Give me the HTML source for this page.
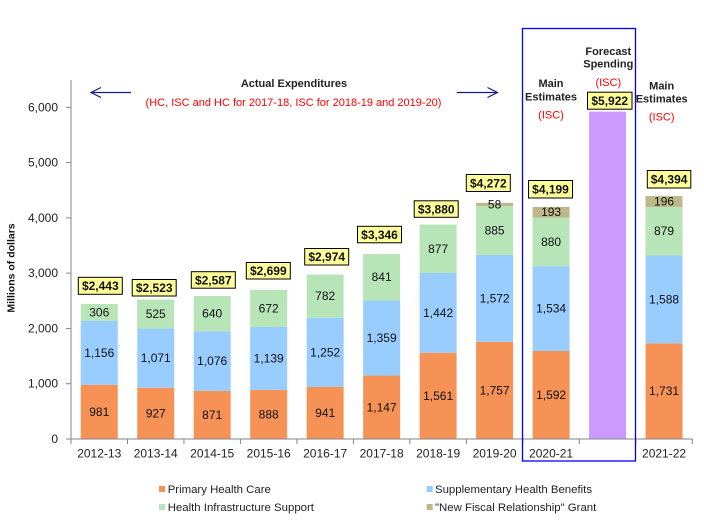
<!DOCTYPE html>
<html><head><meta charset="utf-8"><style>
html,body{margin:0;padding:0;background:#fff;}
svg{display:block;font-family:"Liberation Sans",Arial,sans-serif;}
</style></head><body>
<svg width="704" height="521" viewBox="0 0 704 521" xmlns="http://www.w3.org/2000/svg">
<rect width="704" height="521" fill="#fff"/>

<!-- Bars -->
<g>
<!-- 0 -->
<rect x="80.74" y="384.77" width="37" height="54.23" fill="#F79256"/>
<rect x="80.74" y="320.87" width="37" height="63.90" fill="#99CCFF"/>
<rect x="80.74" y="303.95" width="37" height="16.92" fill="#B7E5B8"/>
<!-- 1 -->
<rect x="137.22" y="387.76" width="37" height="51.24" fill="#F79256"/>
<rect x="137.22" y="328.55" width="37" height="59.21" fill="#99CCFF"/>
<rect x="137.22" y="299.53" width="37" height="29.02" fill="#B7E5B8"/>
<!-- 2 -->
<rect x="193.7" y="390.85" width="37" height="48.15" fill="#F79256"/>
<rect x="193.7" y="331.37" width="37" height="59.48" fill="#99CCFF"/>
<rect x="193.7" y="295.99" width="37" height="35.38" fill="#B7E5B8"/>
<!-- 3 -->
<rect x="250.18" y="389.91" width="37" height="49.09" fill="#F79256"/>
<rect x="250.18" y="326.95" width="37" height="62.96" fill="#99CCFF"/>
<rect x="250.18" y="289.80" width="37" height="37.15" fill="#B7E5B8"/>
<!-- 4 -->
<rect x="306.66" y="386.98" width="37" height="52.02" fill="#F79256"/>
<rect x="306.66" y="317.77" width="37" height="69.21" fill="#99CCFF"/>
<rect x="306.66" y="274.54" width="37" height="43.23" fill="#B7E5B8"/>
<!-- 5 -->
<rect x="363.14" y="375.59" width="37" height="63.41" fill="#F79256"/>
<rect x="363.14" y="300.46" width="37" height="75.13" fill="#99CCFF"/>
<rect x="363.14" y="253.97" width="37" height="46.49" fill="#B7E5B8"/>
<!-- 6 -->
<rect x="419.62" y="352.71" width="37" height="86.29" fill="#F79256"/>
<rect x="419.62" y="273.00" width="37" height="79.71" fill="#99CCFF"/>
<rect x="419.62" y="224.52" width="37" height="48.48" fill="#B7E5B8"/>
<!-- 7 -->
<rect x="476.1" y="341.87" width="37" height="97.13" fill="#F79256"/>
<rect x="476.1" y="254.97" width="37" height="86.90" fill="#99CCFF"/>
<rect x="476.1" y="206.05" width="37" height="48.92" fill="#B7E5B8"/>
<rect x="476.1" y="202.84" width="37" height="3.21" fill="#BDB78A"/>
<!-- 8 -->
<rect x="532.58" y="350.99" width="37" height="88.01" fill="#F79256"/>
<rect x="532.58" y="266.19" width="37" height="84.80" fill="#99CCFF"/>
<rect x="532.58" y="217.54" width="37" height="48.65" fill="#B7E5B8"/>
<rect x="532.58" y="206.87" width="37" height="10.67" fill="#BDB78A"/>
<!-- 9 -->
<rect x="589.06" y="111.63" width="37" height="327.37" fill="#CC99FF"/>
<!-- 10 -->
<rect x="645.54" y="343.31" width="37" height="95.69" fill="#F79256"/>
<rect x="645.54" y="255.53" width="37" height="87.78" fill="#99CCFF"/>
<rect x="645.54" y="206.94" width="37" height="48.59" fill="#B7E5B8"/>
<rect x="645.54" y="196.11" width="37" height="10.83" fill="#BDB78A"/>
</g>

<!-- Bar labels -->
<g font-size="12" fill="#111" text-anchor="middle">
<text x="99.24" y="416">981</text><text x="99.24" y="357">1,156</text><text x="99.24" y="316.5">306</text>
<text x="155.72" y="417.4">927</text><text x="155.72" y="362.2">1,071</text><text x="155.72" y="318">525</text>
<text x="212.2" y="419">871</text><text x="212.2" y="365">1,076</text><text x="212.2" y="317.7">640</text>
<text x="268.68" y="418.5">888</text><text x="268.68" y="362.4">1,139</text><text x="268.68" y="312.4">672</text>
<text x="325.16" y="417">941</text><text x="325.16" y="356.4">1,252</text><text x="325.16" y="300.2">782</text>
<text x="381.64" y="411.3">1,147</text><text x="381.64" y="342">1,359</text><text x="381.64" y="281.2">841</text>
<text x="438.12" y="399.9">1,561</text><text x="438.12" y="316.9">1,442</text><text x="438.12" y="252.8">877</text>
<text x="494.6" y="394.4">1,757</text><text x="494.6" y="302.4">1,572</text><text x="494.6" y="234.5">885</text><text x="494.6" y="208.4">58</text>
<text x="551.08" y="399">1,592</text><text x="551.08" y="312.6">1,534</text><text x="551.08" y="245.9">880</text><text x="551.08" y="216.2">193</text>
<text x="664.04" y="395.2">1,731</text><text x="664.04" y="303.4">1,588</text><text x="664.04" y="235.2">879</text><text x="664.04" y="205.5">196</text>
</g>

<!-- Axes -->
<g stroke="#868686" stroke-width="1" fill="none">
<line x1="71" y1="80" x2="71" y2="439"/>
<line x1="71" y1="439" x2="692.3" y2="439"/>
<line x1="66" y1="439" x2="71" y2="439"/>
<line x1="66" y1="383.72" x2="71" y2="383.72"/>
<line x1="66" y1="328.44" x2="71" y2="328.44"/>
<line x1="66" y1="273.16" x2="71" y2="273.16"/>
<line x1="66" y1="217.88" x2="71" y2="217.88"/>
<line x1="66" y1="162.6" x2="71" y2="162.6"/>
<line x1="66" y1="107.32" x2="71" y2="107.32"/>
<line x1="71" y1="439" x2="71" y2="444"/>
<line x1="127.48" y1="439" x2="127.48" y2="444"/>
<line x1="183.96" y1="439" x2="183.96" y2="444"/>
<line x1="240.44" y1="439" x2="240.44" y2="444"/>
<line x1="296.92" y1="439" x2="296.92" y2="444"/>
<line x1="353.4" y1="439" x2="353.4" y2="444"/>
<line x1="409.88" y1="439" x2="409.88" y2="444"/>
<line x1="466.36" y1="439" x2="466.36" y2="444"/>
<line x1="522.84" y1="439" x2="522.84" y2="444"/>
<line x1="579.32" y1="439" x2="579.32" y2="444"/>
<line x1="635.8" y1="439" x2="635.8" y2="444"/>
<line x1="692.3" y1="439" x2="692.3" y2="444"/>
</g>

<!-- Y tick labels -->
<g font-size="12" fill="#222" text-anchor="end">
<text x="58" y="443">0</text>
<text x="58" y="387.7">1,000</text>
<text x="58" y="332.4">2,000</text>
<text x="58" y="277.2">3,000</text>
<text x="58" y="221.9">4,000</text>
<text x="58" y="166.6">5,000</text>
<text x="58" y="111.3">6,000</text>
</g>

<!-- Y axis title -->
<text transform="translate(14.5,268) rotate(-90)" font-size="10.5" font-weight="bold" fill="#111" text-anchor="middle">Millions of dollars</text>

<!-- X labels -->
<g font-size="12" fill="#222" text-anchor="middle">
<text x="99.24" y="457.5">2012-13</text>
<text x="155.72" y="457.5">2013-14</text>
<text x="212.2" y="457.5">2014-15</text>
<text x="268.68" y="457.5">2015-16</text>
<text x="325.16" y="457.5">2016-17</text>
<text x="381.64" y="457.5">2017-18</text>
<text x="438.12" y="457.5">2018-19</text>
<text x="494.6" y="457.5">2019-20</text>
<text x="551.08" y="457.5">2020-21</text>
<text x="664.04" y="457.5">2021-22</text>
</g>

<!-- Blue box -->
<rect x="522.5" y="28.5" width="113" height="432.5" fill="none" stroke="#0000FF" stroke-width="1.3"/>

<!-- Callout boxes -->
<g font-size="12" font-weight="bold" fill="#111" text-anchor="middle">
<rect x="78.3" y="277.3" width="44" height="17" fill="#FFFF99" stroke="#000" stroke-width="1"/><text x="100.3" y="290.2">$2,443</text>
<rect x="132.2" y="279.5" width="44" height="16.5" fill="#FFFF99" stroke="#000" stroke-width="1"/><text x="154.2" y="292.2">$2,523</text>
<rect x="191.3" y="271.7" width="44" height="16.5" fill="#FFFF99" stroke="#000" stroke-width="1"/><text x="213.3" y="284.4">$2,587</text>
<rect x="246.3" y="262.5" width="44" height="16.5" fill="#FFFF99" stroke="#000" stroke-width="1"/><text x="268.3" y="275.2">$2,699</text>
<rect x="304.7" y="248.5" width="44" height="16.5" fill="#FFFF99" stroke="#000" stroke-width="1"/><text x="326.7" y="261.2">$2,974</text>
<rect x="357.5" y="226.3" width="44" height="16.5" fill="#FFFF99" stroke="#000" stroke-width="1"/><text x="379.5" y="239">$3,346</text>
<rect x="414.2" y="200.8" width="44" height="16.5" fill="#FFFF99" stroke="#000" stroke-width="1"/><text x="436.2" y="213.5">$3,880</text>
<rect x="466.3" y="174.5" width="44" height="17" fill="#FFFF99" stroke="#000" stroke-width="1"/><text x="488.3" y="187.4">$4,272</text>
<rect x="528.5" y="180.5" width="44" height="17.5" fill="#FFFF99" stroke="#000" stroke-width="1"/><text x="550.5" y="193.6">$4,199</text>
<rect x="587.5" y="92.2" width="44.5" height="17" fill="#FFFF99" stroke="#000" stroke-width="1"/><text x="609.7" y="105.1">$5,922</text>
<rect x="647.3" y="170.5" width="43.5" height="17.5" fill="#FFFF99" stroke="#000" stroke-width="1"/><text x="669.1" y="183.6">$4,394</text>
</g>

<!-- Annotations -->
<g font-size="11" text-anchor="middle">
<text x="294" y="87" font-weight="bold" fill="#222">Actual Expenditures</text>
<text x="293.5" y="106" fill="#FF0000">(HC, ISC and HC for 2017-18, ISC for 2018-19 and 2019-20)</text>
<text x="551" y="87" font-weight="bold" fill="#222">Main</text>
<text x="551" y="100.3" font-weight="bold" fill="#222">Estimates</text>
<text x="551" y="118.3" fill="#FF0000">(ISC)</text>
<text x="608.3" y="55" font-weight="bold" fill="#222">Forecast</text>
<text x="608.3" y="67.7" font-weight="bold" fill="#222">Spending</text>
<text x="608.3" y="86" fill="#FF0000">(ISC)</text>
<text x="661.7" y="89.3" font-weight="bold" fill="#222">Main</text>
<text x="661.7" y="102.3" font-weight="bold" fill="#222">Estimates</text>
<text x="661.7" y="120.3" fill="#FF0000">(ISC)</text>
</g>

<!-- Arrows -->
<g stroke="#1A1A80" stroke-width="1.2" fill="none">
<line x1="91" y1="92.5" x2="131" y2="92.5"/>
<polyline points="101,87.5 91,92.5 101,97.5"/>
<line x1="456.7" y1="92.5" x2="497.5" y2="92.5"/>
<polyline points="487.5,87.5 497.5,92.5 487.5,97.5"/>
</g>

<!-- Legend -->
<g font-size="11.4" fill="#222">
<rect x="159" y="486" width="6" height="6" fill="#F79256"/>
<text x="167.7" y="493">Primary Health Care</text>
<rect x="426.7" y="486" width="6" height="6" fill="#99CCFF"/>
<text x="435" y="493">Supplementary Health Benefits</text>
<rect x="159" y="504" width="6" height="6" fill="#B7E5B8"/>
<text x="167.7" y="511">Health Infrastructure Support</text>
<rect x="426.7" y="504" width="6" height="6" fill="#BDB78A"/>
<text x="435" y="511">"New Fiscal Relationship" Grant</text>
</g>
</svg>
</body></html>
